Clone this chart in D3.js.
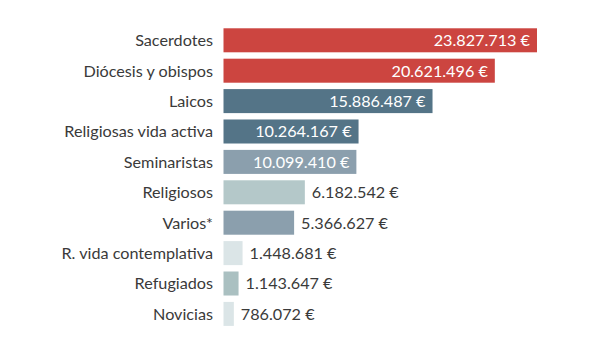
<!DOCTYPE html>
<html><head><meta charset="utf-8">
<script src="https://cdn.jsdelivr.net/npm/d3@7"></script>
<style>body{margin:0;background:#fff}svg{display:block}text{font-family:Lato,"Open Sans",sans-serif}</style>
</head><body><svg id="c" width="600" height="356"></svg>
<script>
const categories = ["Sacerdotes","Diócesis y obispos","Laicos","Religiosas vida activa","Seminaristas","Religiosos","Varios*","R. vida contemplativa","Refugiados","Novicias"];
const values = [23827713,20621496,15886487,10264167,10099410,6182542,5366627,1448681,1143647,786072];
const colors = ["#cc4540","#cc4540","#547487","#547487","#8b9fad","#b4c8c9","#8b9fad","#dbe5e7","#aac0c1","#dbe5e7"];

const data = categories.map((c,i)=>({c, v: values[i], col: colors[i]}));
const svg = d3.select("#c");
const x = d3.scaleLinear().domain([0, d3.max(values)]).range([223.5, 537]);
const y = d3.scaleBand().domain(categories).range([21.9, 332.3]).paddingInner(0.21).paddingOuter(0.21);
const fmt = v => d3.format(",")(v).replace(/,/g, ".") + " €";

const g = svg.append("g");
g.selectAll("rect").data(data).join("rect")
  .attr("x", x(0)).attr("y", d=>y(d.c))
  .attr("width", d=>x(d.v)-x(0)).attr("height", y.bandwidth())
  .attr("fill", d=>d.col);

g.selectAll("text.lab").data(data).join("text").attr("class","lab")
  .attr("x", 213).attr("y", d=>y(d.c)+y.bandwidth()/2).attr("dy","0.36em")
  .attr("text-anchor","end").attr("font-size",16.2).attr("fill","#3a3a3a")
  .text(d=>d.c);

const inside = d => d.v > 9000000;
g.selectAll("text.val").data(data).join("text").attr("class","val")
  .attr("x", d=> inside(d) ? x(d.v)-7 : x(d.v)+7)
  .attr("y", d=>y(d.c)+y.bandwidth()/2).attr("dy","0.36em")
  .attr("text-anchor", d=> inside(d) ? "end" : "start")
  .attr("font-size",16.2).attr("fill", d=> inside(d) ? "#fff" : "#3a3a3a")
  .text(d=>fmt(d.v));
</script></body></html>
